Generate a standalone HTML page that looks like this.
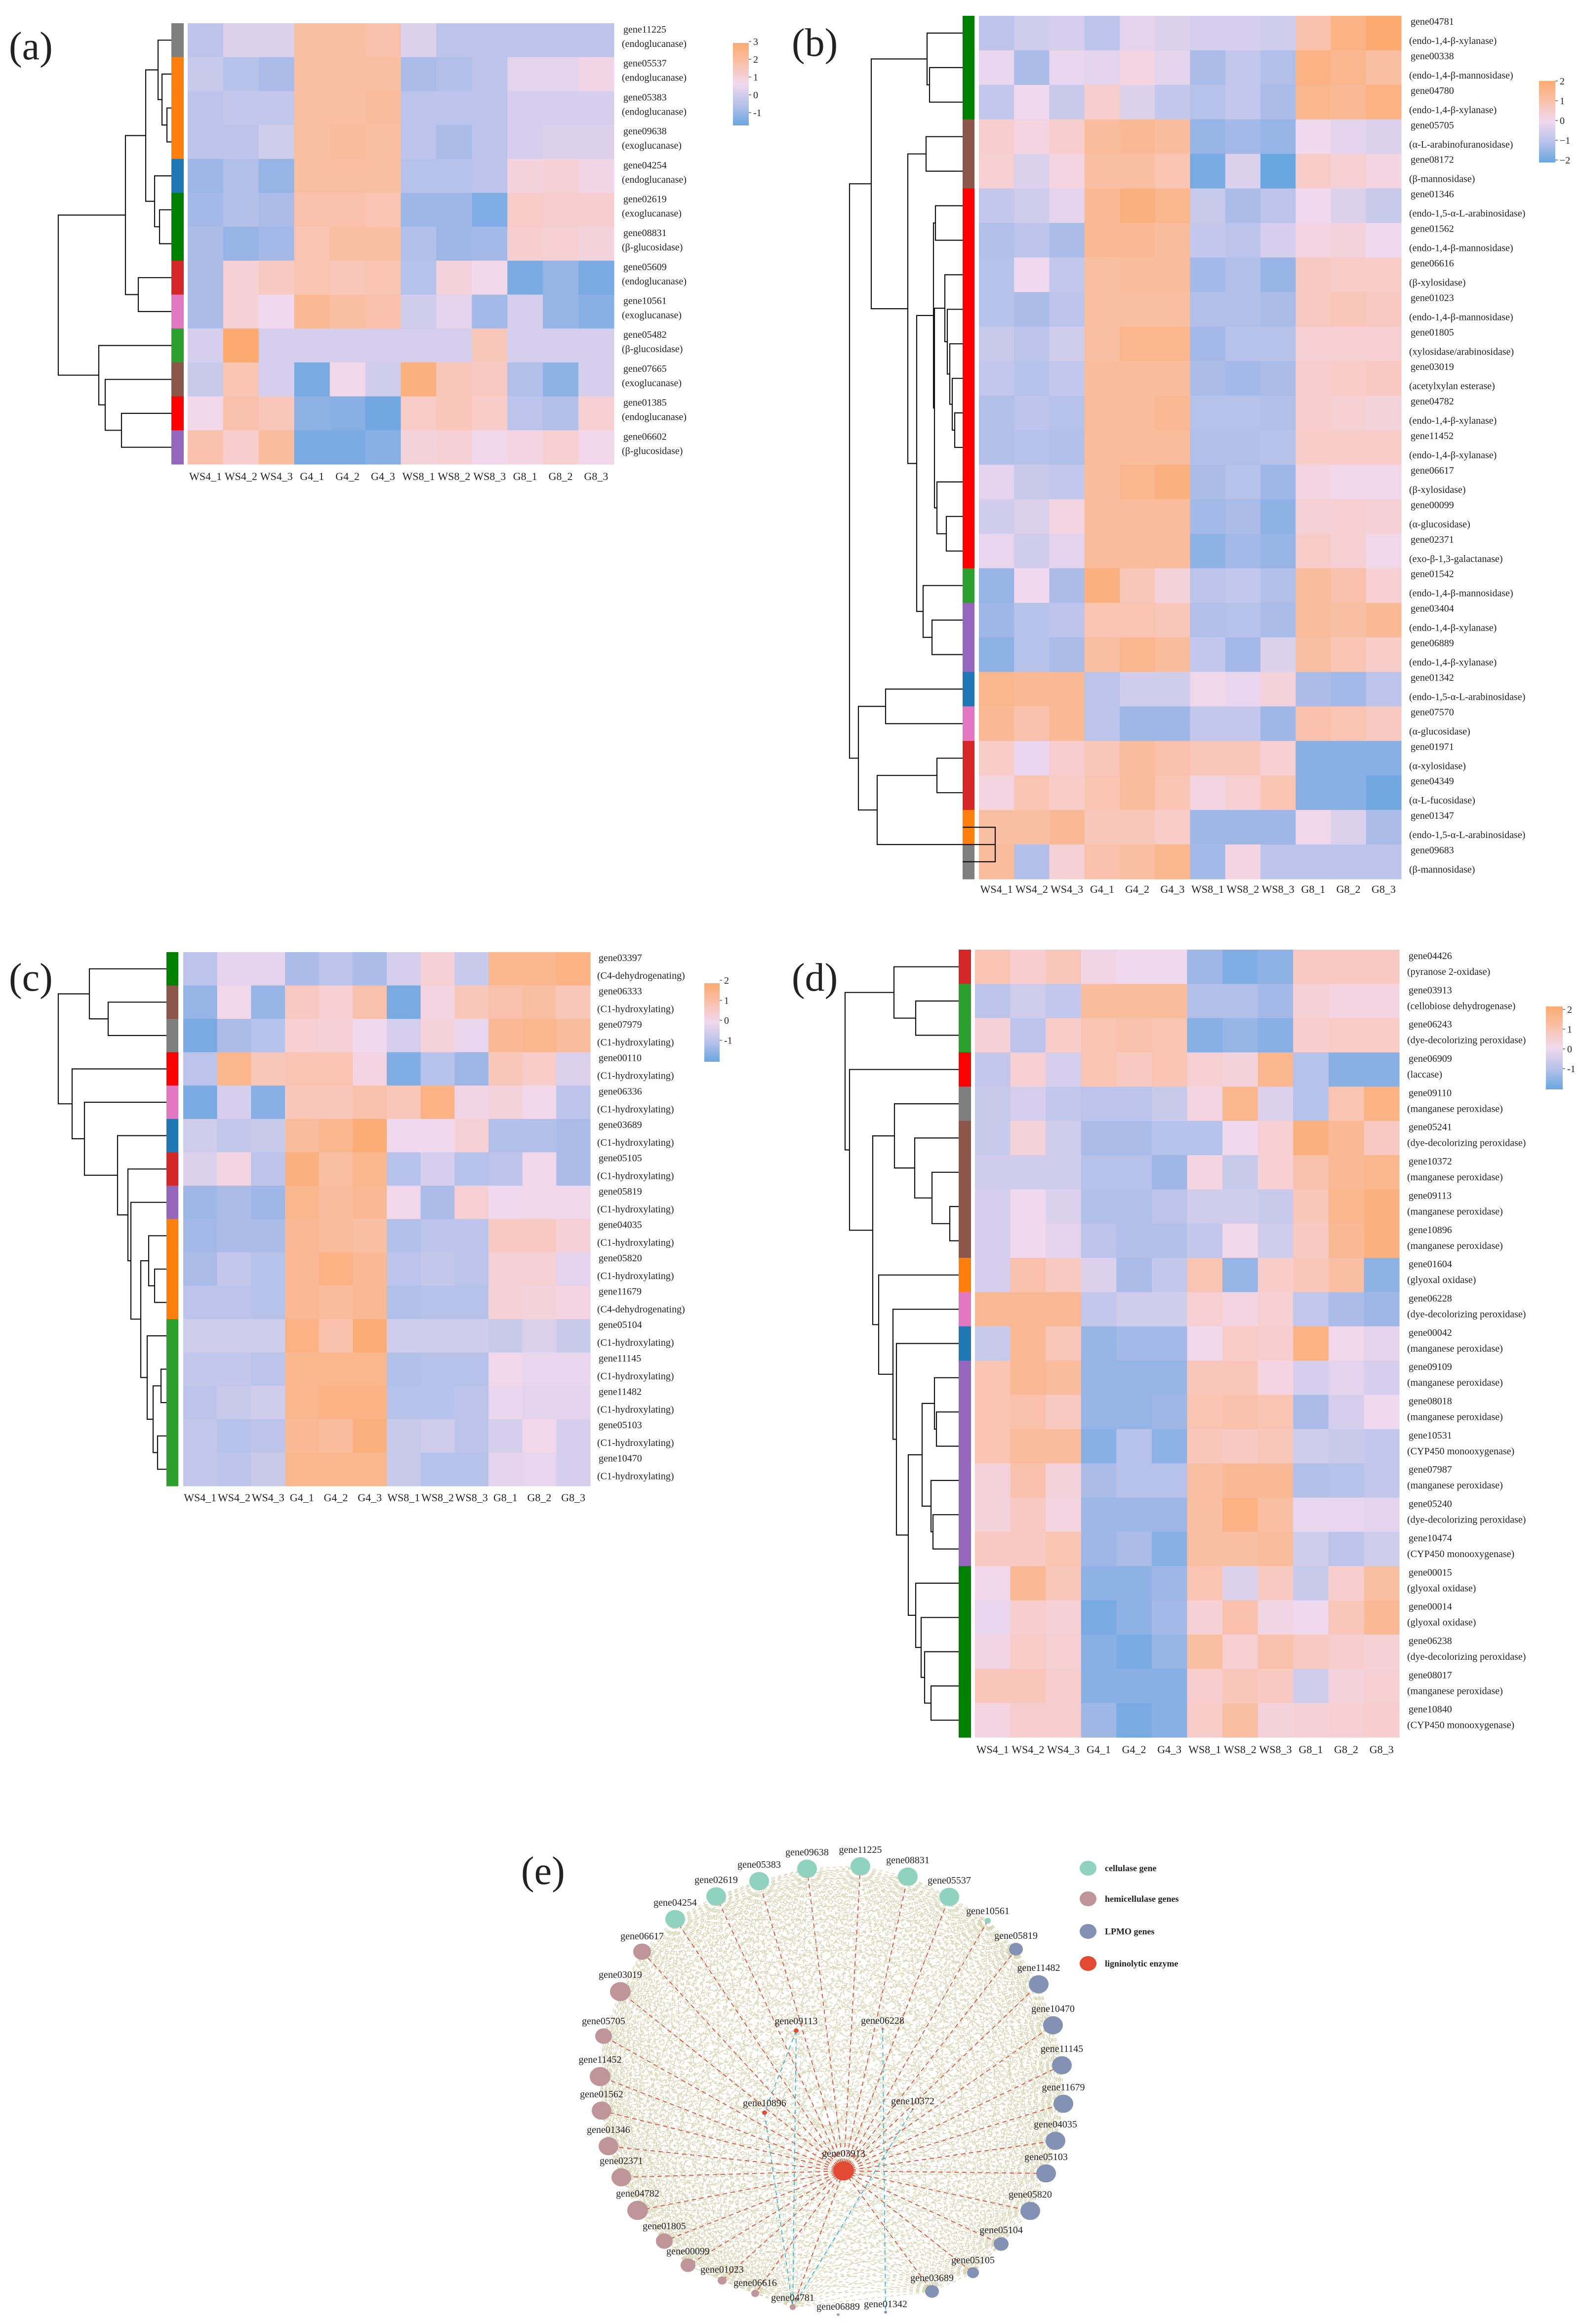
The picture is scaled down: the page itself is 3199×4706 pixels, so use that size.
<!DOCTYPE html>
<html><head><meta charset="utf-8"><style>
html,body{margin:0;padding:0;background:#fff}
svg{display:block}
text{font-family:"Liberation Serif","DejaVu Serif",serif;fill:#222}
</style></head><body>
<svg id="fig" width="3199" height="4706" viewBox="0 0 3199 4706" xmlns="http://www.w3.org/2000/svg">
<rect width="3199" height="4706" fill="#fff"/>
<text x="18" y="120" font-size="80">(a)</text>
<text x="1603" y="113" font-size="80">(b)</text>
<text x="18" y="2006" font-size="80">(c)</text>
<text x="1603" y="2006" font-size="80">(d)</text>
<text x="1055" y="3815" font-size="80">(e)</text>
</svg>
<script>
const cols=['WS4_1','WS4_2','WS4_3','G4_1','G4_2','G4_3','WS8_1','WS8_2','WS8_3','G8_1','G8_2','G8_3'];

const aGenes=['gene11225','gene05537','gene05383','gene09638','gene04254','gene02619','gene08831','gene05609','gene10561','gene05482','gene07665','gene01385','gene06602'];
const aEnz=['(endoglucanase)','(endoglucanase)','(endoglucanase)','(exoglucanase)','(endoglucanase)','(exoglucanase)','(β-glucosidase)','(endoglucanase)','(exoglucanase)','(β-glucosidase)','(exoglucanase)','(endoglucanase)','(β-glucosidase)'];
const aVals=[
[-0.8,-0.3,-0.3,1.3,1.3,1.2,-0.3,-0.8,-0.8,-0.8,-0.8,-0.8],
[-0.6,-0.9,-1.1,1.3,1.3,1.3,-1.1,-1,-0.8,-0.2,-0.2,0.2],
[-0.8,-0.7,-0.7,1.3,1.3,1.4,-0.8,-0.8,-0.8,-0.4,-0.4,-0.4],
[-0.8,-0.8,-0.5,1.3,1.4,1.3,-0.8,-1.1,-0.8,-0.4,-0.3,-0.3],
[-1.3,-1,-1.4,1.3,1.3,1.3,-0.9,-0.9,-0.8,0.4,0.5,0.2],
[-1.2,-1,-1.1,1.2,1.2,1.1,-1.3,-1.3,-1.7,0.8,0.7,0.7],
[-1.1,-1.4,-1.2,1.1,1.3,1.3,-1,-1.3,-1.2,0.7,0.6,0.4],
[-1.1,0.5,0.9,1.1,1,1.1,-0.9,0.4,0.1,-1.8,-1.4,-1.8],
[-1.1,0.5,0,1.5,1.3,1.2,-0.5,-0.2,-1.2,-0.4,-1.4,-1.6],
[-0.4,2,-0.4,-0.4,-0.4,-0.4,-0.4,-0.4,1,-0.4,-0.4,-0.4],
[-0.6,1.1,-0.4,-1.8,0.1,-0.5,1.8,1,0.9,-1,-1.5,-0.4],
[0.1,1.2,1,-1.5,-1.6,-1.9,0.8,1,0.8,-0.8,-1,0.6],
[1.2,0.7,1.4,-1.8,-1.8,-1.6,0.4,0.5,0.1,0.3,0.6,0.1]];
const aStrip=['#7f7f7f','#ff7f0e','#ff7f0e','#ff7f0e','#1f77b4','#008000','#008000','#d62728','#e377c2','#2ca02c','#8c564b','#ff0000','#9467bd'];
const aTree=[118,[254,[295,[320,0,[328,1,[338,2,3]]],[313,4,[323,5,6]]],[280,7,8]],[200,9,[213,10,[246,11,12]]]];
const aTicks=['3','2','1','0','-1'];

const bGenes=['gene04781','gene00338','gene04780','gene05705','gene08172','gene01346','gene01562','gene06616','gene01023','gene01805','gene03019','gene04782','gene11452','gene06617','gene00099','gene02371','gene01542','gene03404','gene06889','gene01342','gene07570','gene01971','gene04349','gene01347','gene09683'];
const bEnz=['(endo-1,4-β-xylanase)','(endo-1,4-β-mannosidase)','(endo-1,4-β-xylanase)','(α-L-arabinofuranosidase)','(β-mannosidase)','(endo-1,5-α-L-arabinosidase)','(endo-1,4-β-mannosidase)','(β-xylosidase)','(endo-1,4-β-mannosidase)','(xylosidase/arabinosidase)','(acetylxylan esterase)','(endo-1,4-β-xylanase)','(endo-1,4-β-xylanase)','(β-xylosidase)','(α-glucosidase)','(exo-β-1,3-galactanase)','(endo-1,4-β-mannosidase)','(endo-1,4-β-xylanase)','(endo-1,4-β-xylanase)','(endo-1,5-α-L-arabinosidase)','(α-glucosidase)','(α-xylosidase)','(α-L-fucosidase)','(endo-1,5-α-L-arabinosidase)','(β-mannosidase)'];
const bVals=[
[-0.8,-0.5,-0.4,-0.8,-0.2,-0.3,-0.4,-0.4,-0.5,1.2,1.7,2],
[-0.1,-1.1,-0.1,-0.2,0.3,-0.2,-1.1,-0.7,-1,1.7,1.6,1.3],
[-0.7,0,-0.6,0.7,-0.3,-0.7,-0.9,-0.7,-1.1,1.6,1.5,1.7],
[0.7,0.3,0.7,1.4,1.5,1.4,-1.4,-1.2,-1.4,0,-0.2,-0.3],
[0.6,-0.3,0.3,1.3,1.3,1.1,-1.8,-0.3,-2,0.8,0.6,0.3],
[-0.7,-0.5,-0.2,1.5,1.8,1.6,-0.6,-1.1,-0.8,0,-0.3,-0.6],
[-1,-0.8,-1.1,1.5,1.5,1.4,-0.7,-0.8,-0.4,0.3,0.4,0],
[-0.9,0,-0.7,1.3,1.4,1.4,-1.2,-1,-1.4,0.9,0.8,0.8],
[-0.9,-1.1,-0.8,1.3,1.3,1.3,-1,-1,-1.1,0.9,1,0.9],
[-0.6,-0.8,-0.5,1.3,1.6,1.6,-1.2,-0.9,-0.9,0.6,0.6,0.6],
[-0.7,-0.9,-0.7,1.4,1.4,1.4,-1.1,-1.2,-1.1,0.7,0.8,0.9],
[-1,-0.8,-0.9,1.4,1.4,1.5,-0.9,-0.9,-1,0.7,0.6,0.4],
[-1,-0.9,-1,1.4,1.4,1.4,-1,-1,-0.9,0.8,0.8,0.8],
[-0.2,-0.6,-0.7,1.4,1.6,1.8,-1.1,-0.9,-1.3,0.3,0.1,0.1],
[-0.5,-0.3,0.3,1.4,1.4,1.4,-1.2,-1.1,-1.5,0.5,0.6,0.5],
[-0.1,-0.5,-0.2,1.4,1.4,1.4,-1.5,-1.2,-1.4,0.8,0.6,0.1],
[-1.4,0,-1.1,1.8,1,0.4,-0.8,-0.7,-1,1.4,1.2,0.6],
[-1.3,-0.9,-0.8,1.1,1.1,1,-1,-0.9,-1.1,1.4,1.3,1.5],
[-1.5,-0.9,-1.1,1.3,1.6,1.4,-0.7,-1.2,-0.3,1.3,1.1,0.8],
[1.6,1.5,1.5,-0.8,-0.5,-0.5,0.1,-0.1,0.4,-1.1,-1.2,-0.8],
[1.5,1.2,1.5,-0.8,-1.3,-1.3,-0.7,-0.7,-1.3,1.2,1.1,0.9],
[0.8,-0.1,0.7,1,1.4,1.2,1,1,0.6,-1.6,-1.6,-1.6],
[0.3,1.1,0.8,1.1,1.4,1.1,0.3,0.6,1.1,-1.6,-1.6,-1.9],
[1.3,1.3,1.5,1,1,0.8,-1.3,-1.3,-1.3,0.1,-0.3,-1.1],
[1.4,-1,0.5,1.2,1.3,1.6,-1.2,0.3,-0.8,-0.8,-0.8,-0.8]];
const bStrip=['#008000','#008000','#008000','#8c564b','#8c564b','#ff0000','#ff0000','#ff0000','#ff0000','#ff0000','#ff0000','#ff0000','#ff0000','#ff0000','#ff0000','#ff0000','#2ca02c','#9467bd','#9467bd','#1f77b4','#e377c2','#d62728','#d62728','#ff7f0e','#7f7f7f'];
const bRed=[1890,[1894,5,6],[1892,[1913,7,[1918,8,[1923,9,[1928,10,[1933,11,12]]]]],[1897,13,[1916,14,15]]]];
const bTree=[1720,[1764,[1877,0,[1882,1,2]],[1838,[1875,3,4],[1856,bRed,[1869,16,[1887,17,18]]]]],[1738,[1793,19,20],[1776,[1897,21,22],[2015,23,24]]]];
const bTicks=['2','1','0','\u22121','\u22122'];

const cGenes=['gene03397','gene06333','gene07979','gene00110','gene06336','gene03689','gene05105','gene05819','gene04035','gene05820','gene11679','gene05104','gene11145','gene11482','gene05103','gene10470'];
const cEnz=['(C4-dehydrogenating)','(C1-hydroxylating)','(C1-hydroxylating)','(C1-hydroxylating)','(C1-hydroxylating)','(C1-hydroxylating)','(C1-hydroxylating)','(C1-hydroxylating)','(C1-hydroxylating)','(C1-hydroxylating)','(C4-dehydrogenating)','(C1-hydroxylating)','(C1-hydroxylating)','(C1-hydroxylating)','(C1-hydroxylating)','(C1-hydroxylating)'];
const cVals=[
[-0.8,-0.2,-0.2,-1.1,-0.8,-1.1,-0.4,0.5,-0.6,1.6,1.6,1.7],
[-1.4,0.1,-1.4,0.9,0.6,1.2,-1.8,0.3,1,1.2,1.3,1],
[-1.8,-1.1,-0.9,0.6,0.5,0,-0.4,0.4,-0.1,1.5,1.6,1.4],
[-0.8,1.6,1,1.1,1.1,0.3,-1.7,-0.9,-1.3,1,0.8,-0.3],
[-1.8,-0.4,-1.6,1,1,1.2,1,1.7,0.2,0.4,0.1,-0.8],
[-0.5,-0.7,-0.6,1.4,1.6,1.9,0,0,0.5,-1,-1,-1.1],
[-0.3,0.3,-0.8,1.8,1.3,1.6,-0.9,-0.4,-0.9,-0.8,0.1,-1.1],
[-1.3,-1.1,-1.3,1.6,1.4,1.5,0.1,-1.1,0.6,0,0.1,0.1],
[-1.2,-1.1,-1.1,1.5,1.4,1.3,-1,-0.8,-0.8,0.9,0.9,0.5],
[-1.1,-0.7,-0.9,1.5,1.7,1.5,-0.8,-0.7,-0.8,0.5,0.5,-0.2],
[-0.8,-0.8,-0.9,1.5,1.4,1.5,-1,-0.9,-0.9,0.5,0.4,0.3],
[-0.5,-0.5,-0.5,1.7,1.2,1.9,-0.5,-0.5,-0.5,-0.6,-0.3,-0.6],
[-0.7,-0.7,-0.8,1.6,1.6,1.6,-1,-0.9,-0.9,0.1,-0.1,-0.1],
[-0.8,-0.6,-0.5,1.6,1.7,1.7,-0.9,-0.9,-0.8,-0.1,-0.2,-0.2],
[-0.7,-0.9,-0.8,1.5,1.4,1.8,-0.6,-0.5,-0.8,-0.4,0.1,-0.4],
[-0.7,-0.8,-0.6,1.6,1.6,1.6,-0.6,-0.9,-0.9,-0.2,-0.1,-0.4]];
const cStrip=['#008000','#8c564b','#7f7f7f','#ff0000','#e377c2','#1f77b4','#d62728','#9467bd','#ff7f0e','#ff7f0e','#ff7f0e','#2ca02c','#2ca02c','#2ca02c','#2ca02c','#2ca02c'];
const cTree=[118,[181,0,[219,1,2]],[146,3,[171,4,[238,5,[259,6,[265,7,[285,[301,8,[313,9,10]],[298,11,[310,[326,12,13],[319,14,15]]]]]]]]]];
const cTicks=['2','1','0','-1'];

const dGenes=['gene04426','gene03913','gene06243','gene06909','gene09110','gene05241','gene10372','gene09113','gene10896','gene01604','gene06228','gene00042','gene09109','gene08018','gene10531','gene07987','gene05240','gene10474','gene00015','gene00014','gene06238','gene08017','gene10840'];
const dEnz=['(pyranose 2-oxidase)','(cellobiose dehydrogenase)','(dye-decolorizing peroxidase)','(laccase)','(manganese peroxidase)','(dye-decolorizing peroxidase)','(manganese peroxidase)','(manganese peroxidase)','(manganese peroxidase)','(glyoxal oxidase)','(dye-decolorizing peroxidase)','(manganese peroxidase)','(manganese peroxidase)','(manganese peroxidase)','(CYP450 monooxygenase)','(manganese peroxidase)','(dye-decolorizing peroxidase)','(CYP450 monooxygenase)','(glyoxal oxidase)','(glyoxal oxidase)','(dye-decolorizing peroxidase)','(manganese peroxidase)','(CYP450 monooxygenase)'];
const dVals=[
[1.1,0.7,1,0.2,0,0,-1.3,-1.7,-1.5,0.9,0.9,0.9],
[-0.8,-0.5,-0.7,1.4,1.4,1.4,-1,-1,-1.2,0.5,0.3,0.3],
[0.5,-0.8,0.8,1.1,1.2,1.1,-1.6,-1.4,-1.6,0.7,0.8,0.8],
[-0.7,0.6,-0.4,1.1,0.9,1.1,0.6,0.4,1.6,-0.9,-1.6,-1.6],
[-0.6,-0.4,-0.7,-0.8,-0.8,-0.6,0.3,1.6,-0.3,-0.9,1.1,1.7],
[-0.6,0.4,-0.5,-1.1,-1.1,-0.9,-0.9,0,0.6,1.8,1.5,0.9],
[-0.5,-0.5,-0.5,-0.9,-0.9,-1.3,0.3,-0.6,0.6,1.2,1.5,1.6],
[-0.4,0,-0.3,-1,-1,-0.8,-0.5,-0.5,-0.6,1,1.6,1.8],
[-0.4,0,-0.2,-0.8,-1,-1,-0.7,0.1,-0.5,0.9,1.5,1.8],
[-0.4,1.2,0.9,-0.3,-1.1,-0.7,1.1,-1.4,0.8,1,1.3,-1.5],
[1.5,1.5,1.5,-0.7,-0.5,-0.5,0.6,0.3,0.6,-0.7,-1.1,-1.3],
[-0.6,1.5,1,-1.4,-1.2,-1.2,0.1,0.8,0.7,1.7,0.1,-0.2],
[1.1,1.5,1.4,-1.4,-1.4,-1.4,1,1,0.3,-0.4,-0.2,-0.4],
[1.1,1.2,0.9,-1.4,-1.4,-1.3,1.1,1.2,1.1,-1.1,-0.4,0],
[1.1,1.4,1.4,-1.6,-0.9,-1.5,1,0.9,1,-0.5,-0.6,-0.7],
[0.4,1.2,0.4,-1.1,-0.9,-0.9,1.3,1.5,1.5,-1,-0.9,-0.7],
[0.4,0.9,0.3,-1.3,-1.3,-1.3,1.3,1.7,1.3,-0.1,-0.1,-0.2],
[0.9,0.9,1.1,-1.3,-1.1,-1.6,1.3,1.3,1.4,-0.5,-0.8,-0.5],
[0.1,1.5,1,-1.5,-1.5,-1.3,1.1,-0.3,0.9,-0.6,0.7,1.3],
[-0.1,0.7,0.5,-1.8,-1.5,-1.2,0.5,1.2,0.2,0,1,1.5],
[0.2,0.8,0.6,-1.6,-1.8,-1.4,1.3,0.6,1.2,0.9,0.7,0.5],
[1,1,0.7,-1.6,-1.6,-1.6,0.7,1,0.9,-0.5,0.4,0.6],
[0.3,0.7,0.7,-1.3,-1.8,-1.6,0.8,1.3,0.4,0.5,0.6,0.7]];
const dStrip=['#d62728','#2ca02c','#2ca02c','#ff0000','#7f7f7f','#8c564b','#8c564b','#8c564b','#8c564b','#ff7f0e','#e377c2','#1f77b4','#9467bd','#9467bd','#9467bd','#9467bd','#9467bd','#9467bd','#008000','#008000','#008000','#008000','#008000'];
const dTree=[1711,[1810,0,[1854,1,2]],[1720,3,[1767,[1811,4,[1852,5,[1887,6,[1923,7,8]]]],[1779,9,[1808,10,[1815,11,[1839,[1867,[1892,12,[1896,13,14]],[1885,15,[1889,16,17]]],[1854,18,[1865,19,[1872,20,[1885,21,22]]]]]]]]]]];
const dTicks=['2','1','0','-1'];

// network data
const netNames=['gene04254','gene02619','gene05383','gene09638','gene11225','gene08831','gene05537','gene10561','gene05819','gene11482','gene10470','gene11145','gene11679','gene04035','gene05103','gene05820','gene05104','gene05105','gene03689','gene01342','gene06889','gene04781','gene06616','gene01023','gene00099','gene01805','gene04782','gene02371','gene01346','gene01562','gene11452','gene05705','gene03019','gene06617'];
const netGroup=[0,0,0,0,0,0,0,0,2,2,2,2,2,2,2,2,2,2,2,2,1,1,1,1,1,1,1,1,1,1,1,1,1,1];
const netSize=[20,20,20,20,20,20,20,6,14,20,20,20,20,20,20,20,15,12,14,3,3,6,8,9,15,17,21,20,20,20,21,17,21,18];
const netX=[1367,1450,1537,1634,1742,1838,1922,2000,2057,2103,2132,2150,2153,2137,2118,2086,2027,1970,1887,1793,1697,1605,1529,1462,1393,1345,1291,1258,1232,1218,1215,1222,1256,1300];
const netY=[3886,3840,3809,3784,3779,3800,3841,3889,3947,4018,4101,4182,4260,4335,4401,4477,4544,4602,4640,4682,4687,4672,4644,4618,4587,4538,4476,4409,4346,4274,4205,4123,4033,3952];
const innerNames=['gene03913','gene09113','gene06228','gene10896','gene10372'];
const innerX=[1708,1612,1787,1548,1848];
const innerY=[4396,4112,4108,4278,4271];
const innerSize=[21,5,2,5,2];
const groupColors=['#8fd3bf','#c0959a','#8391b5','#e34a33'];
const groupNames=['cellulase gene','hemicellulase genes','LPMO genes','ligninolytic enzyme'];

const NS='http://www.w3.org/2000/svg';
const svg=document.getElementById('fig');
function mk(tag,attrs,parent){const e=document.createElementNS(NS,tag);for(const k in attrs)e.setAttribute(k,attrs[k]);(parent||svg).appendChild(e);return e;}

const stops=[[-2,[106,166,224]],[-1.2,[165,185,232]],[-0.6,[200,202,236]],[0,[240,216,238]],[0.8,[248,204,200]],[1.4,[249,188,156]],[2,[252,170,112]]];
function color(v){
  if(v<=stops[0][0])return 'rgb('+stops[0][1].join(',')+')';
  for(let i=1;i<stops.length;i++){if(v<=stops[i][0]){const a=stops[i-1],b=stops[i];const t=(v-a[0])/(b[0]-a[0]);const c=a[1].map((x,j)=>Math.round(x+(b[1][j]-x)*t));return 'rgb('+c.join(',')+')';}}
  return 'rgb('+stops[stops.length-1][1].join(',')+')';
}

function heatmap(cfg,genes,enz,vals,strip,tree,ticks,id){
  const g=mk('g',{});
  
  
  const n=genes.length,rh=(cfg.y1-cfg.y0)/n,cw=(cfg.x1-cfg.x0)/cols.length;
  const yAt=i=>cfg.y0+i*rh;
  const xAt=j=>cfg.x0+j*cw;
  for(let i=0;i<n;i++){
    for(let j=0;j<cols.length;j++){
      const r=mk('rect',{x:xAt(j).toFixed(2),y:yAt(i).toFixed(2),width:(cw+0.6).toFixed(2),height:(rh+0.6).toFixed(2),fill:color(vals[i][j])},g);
      
      
    }
    const s=mk('rect',{x:cfg.sx0,y:yAt(i).toFixed(2),width:cfg.sx1-cfg.sx0,height:(rh+0.6).toFixed(2),fill:strip[i]},g);
    
    
    const t1=mk('text',{x:cfg.lx,y:(yAt(i)+cfg.g1).toFixed(1),'font-size':cfg.fs},g);
    t1.textContent=genes[i];
    
    
    const t2=mk('text',{x:cfg.lx-3,y:(yAt(i)+cfg.g2).toFixed(1),'font-size':cfg.fs},g);
    t2.textContent=enz[i];
    
    
  }
  cols.forEach((c,j)=>{
    const t=mk('text',{x:(xAt(j)+cw/2).toFixed(1),y:cfg.cy,'font-size':cfg.cfs,'text-anchor':'middle'},g);
    t.textContent=c;
    
    
  });
  // dendrogram
  const dg=mk('g',{stroke:'#111','stroke-width':2.2,fill:'none'},g);
  
  
  function walk(node){
    if(typeof node==='number')return {x:cfg.sx0,y:yAt(node)+rh/2};
    const l=walk(node[1]),r=walk(node[2]),h=node[0];
    mk('path',{d:`M${l.x},${l.y.toFixed(1)}H${h}V${r.y.toFixed(1)}H${r.x}`},dg);
    return {x:h,y:(l.y+r.y)/2};
  }
  walk(tree);
  // colorbar
  const gid='grad-'+id;
  const defs=mk('defs',{},g);
  const lg=mk('linearGradient',{id:gid,x1:0,y1:0,x2:0,y2:1},defs);
  [[0,2],[0.25,1.2],[0.5,0],[0.75,-0.9],[1,-2]].forEach(s=>mk('stop',{offset:s[0],'stop-color':color(s[1])},lg));
  const cb=mk('rect',{x:cfg.bx,y:cfg.by0,width:cfg.bw,height:cfg.by1-cfg.by0,fill:`url(#${gid})`},g);
  
  
  ticks.forEach((tk,k)=>{
    const ty=cfg.ty0+k*cfg.tdy;
    mk('line',{x1:cfg.bx+cfg.bw,x2:cfg.bx+cfg.bw+5,y1:ty,y2:ty,stroke:'#666','stroke-width':1.5},g);
    const t=mk('text',{x:cfg.bx+cfg.bw+9,y:ty+7,'font-size':20},g);
    t.textContent=tk;
    
    
  });
}

heatmap({x0:380,x1:1243,y0:47,y1:940,sx0:347,sx1:372,lx:1262,g1:19,g2:48,fs:20,cy:972,cfs:22,bx:1484,bw:32,by0:87,by1:254,ty0:84,tdy:36},aGenes,aEnz,aVals,aStrip,aTree,aTicks,'a');
heatmap({x0:1982,x1:2837,y0:32,y1:1780,sx0:1949,sx1:1973,lx:2856,g1:18,g2:57,fs:20,cy:1808,cfs:22,bx:3116,bw:33,by0:164,by1:329,ty0:164,tdy:40},bGenes,bEnz,bVals,bStrip,bTree,bTicks,'b');
heatmap({x0:371,x1:1195,y0:1928,y1:3009,sx0:337,sx1:361,lx:1212,g1:18,g2:54,fs:20,cy:3040,cfs:22,bx:1426,bw:31,by0:1991,by1:2150,ty0:1985,tdy:40.5},cGenes,cEnz,cVals,cStrip,cTree,cTicks,'c');
heatmap({x0:1974,x1:2833,y0:1923,y1:3518,sx0:1941,sx1:1966,lx:2852,g1:19,g2:51,fs:20,cy:3550,cfs:22,bx:3130,bw:34,by0:2038,by1:2206,ty0:2044,tdy:40},dGenes,dEnz,dVals,dStrip,dTree,dTicks,'d');

// network
const ng=mk('g',{});


const eg=mk('g',{stroke:'#cdcaa0','stroke-width':1.6,'stroke-dasharray':'7,6',opacity:0.75},ng);


for(let i=0;i<netNames.length;i++)for(let j=i+1;j<netNames.length;j++){
  if(netSize[i]<5||netSize[j]<5)continue;
  mk('line',{x1:netX[i],y1:netY[i],x2:netX[j],y2:netY[j]},eg);
}
const rg=mk('g',{stroke:'#e0503a','stroke-width':1.8,'stroke-dasharray':'9,7'},ng);


for(let i=0;i<netNames.length;i++){if(netSize[i]>=6)mk('line',{x1:innerX[0],y1:innerY[0],x2:netX[i],y2:netY[i]},rg);}
const bg=mk('g',{stroke:'#3bb5d6','stroke-width':1.8,'stroke-dasharray':'9,7'},ng);


[[1,21],[3,21],[2,19],[4,21]].forEach(p=>mk('line',{x1:innerX[p[0]],y1:innerY[p[0]],x2:netX[p[1]],y2:netY[p[1]]},bg));
mk('line',{x1:innerX[1],y1:innerY[1],x2:innerX[3],y2:innerY[3]},bg);
for(let i=0;i<netNames.length;i++){
  const c=mk('ellipse',{cx:netX[i],cy:netY[i],rx:netSize[i],ry:netSize[i]*0.92,fill:groupColors[netGroup[i]]},ng);
  
  
  const t=mk('text',{x:netX[i],y:netY[i]-netSize[i]-7,'font-size':20,'text-anchor':'middle'},ng);
  t.textContent=netNames[i];
  
  
}
for(let i=0;i<innerNames.length;i++){
  const c=mk('ellipse',{cx:innerX[i],cy:innerY[i],rx:innerSize[i],ry:innerSize[i]*0.92,fill:groupColors[3]},ng);
  
  
  const t=mk('text',{x:innerX[i],y:innerY[i]-innerSize[i]-8,'font-size':20,'text-anchor':'middle'},ng);
  t.textContent=innerNames[i];
  
  
}
groupNames.forEach((nm,k)=>{
  const ly=[3783,3845,3911,3976][k];
  const c=mk('ellipse',{cx:2203,cy:ly,rx:17,ry:15,fill:groupColors[k]},ng);
  
  
  const t=mk('text',{x:2237,y:ly+6,'font-size':18,'font-weight':'bold'},ng);
  t.textContent=nm;
  
  
});
</script>
</body></html>
